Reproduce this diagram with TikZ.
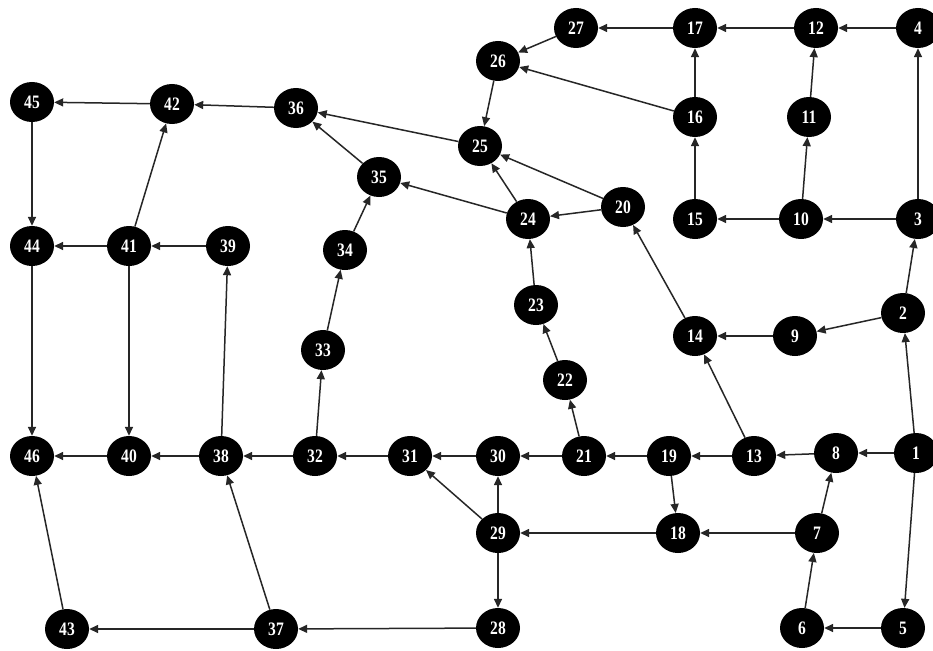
\documentclass[tikz,border=0pt]{standalone}
\usepackage{fontspec}
\usepackage{graphicx}
\setmainfont{Liberation Serif}
\usetikzlibrary{shapes.geometric,arrows.meta}
\newcommand{\vlbl}[1]{\scalebox{0.82}[1]{#1}}
\begin{document}
\begin{tikzpicture}[x=1pt,y=-1pt,
  vtx/.style={ellipse,fill=black,text=white,minimum width=44pt,minimum height=40pt,inner sep=0pt,
    font=\fontsize{19}{19}\selectfont\bfseries},
  arr/.style={-{Triangle[length=9pt,width=8pt]},line width=1.5pt,black!85}]
\fill[white] (0,0) rectangle (933,650);
\useasboundingbox (0,0) rectangle (933,650);
% nodes
\foreach \n/\x/\y in {1/916/453, 2/903/313, 3/918/219, 4/918/28, 5/903/628, 6/802/628,
  7/817/533, 8/836/453, 9/795/336, 10/801/219, 11/809/117, 12/816/28, 13/754/456,
  14/695/336, 15/695/219, 16/695/117, 17/695/28, 18/678/533, 19/669/456, 20/623/207,
  21/584/456, 22/565/380, 23/536/305, 24/528/219, 25/480/146, 26/498/61, 27/576/28,
  28/498/628, 29/498/533, 30/498/456, 31/410/456, 32/315/456, 33/323/350, 34/345/250,
  35/379/177, 36/296/108, 37/276/629, 38/221/456, 39/228/246, 40/129/456, 41/129/246,
  42/172/104, 43/67/629, 44/32/246, 45/32/102, 46/32/456}
  \node[vtx] (n\n) at (\x,\y) {\vlbl{\n}};
% edges
\foreach \a/\b in {1/8,1/2,1/5,2/3,2/9,3/4,3/10,10/11,11/12,4/12,12/17,10/15,15/16,16/17,
  16/26,17/27,27/26,26/25,9/14,13/14,8/13,13/19,19/21,19/18,7/8,7/18,6/7,5/6,18/29,
  29/30,29/31,29/28,28/37,37/43,37/38,21/30,21/22,22/23,23/24,14/20,20/24,20/25,24/25,
  24/35,25/36,35/36,34/35,33/34,32/33,30/31,31/32,32/38,38/40,38/39,40/46,39/41,41/44,
  41/40,41/42,36/42,42/45,45/44,44/46,43/46}
  \draw[arr] (n\a) -- (n\b);
\end{tikzpicture}
\end{document}
